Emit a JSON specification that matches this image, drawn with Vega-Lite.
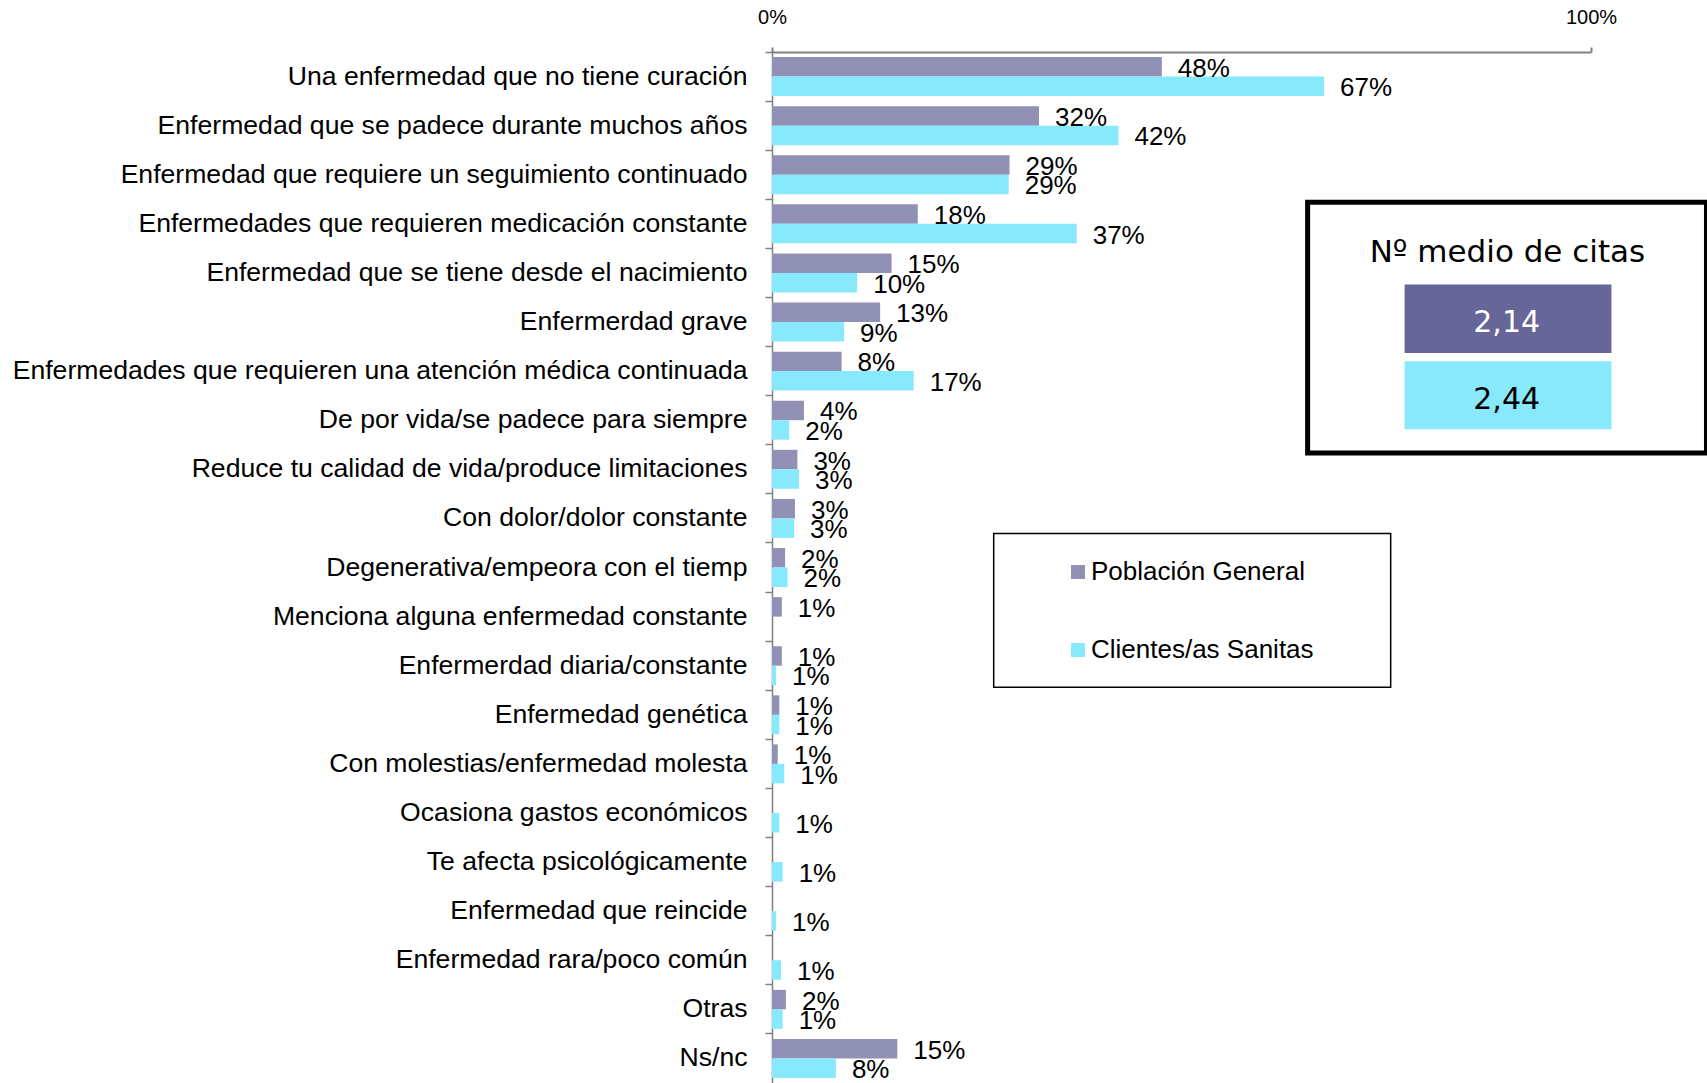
{
  "$schema": "https://vega.github.io/schema/vega-lite/v6.json",
  "width": 819,
  "height": 1031,
  "autosize": {"type": "none"},
  "padding": {"left": 772, "top": 52, "right": 116, "bottom": 0},
  "background": "white",
  "config": {
    "font": "Liberation Sans",
    "view": {"stroke": null},
    "axis": {"grid": false}
  },
  "datasets": {
    "respuestas": [
      {"respuesta": "Una enfermedad que no tiene curación", "serie": "Población General", "valor": 47.6, "etiqueta": "48%"},
      {"respuesta": "Una enfermedad que no tiene curación", "serie": "Clientes/as Sanitas", "valor": 67.4, "etiqueta": "67%"},
      {"respuesta": "Enfermedad que se padece durante muchos años", "serie": "Población General", "valor": 32.6, "etiqueta": "32%"},
      {"respuesta": "Enfermedad que se padece durante muchos años", "serie": "Clientes/as Sanitas", "valor": 42.3, "etiqueta": "42%"},
      {"respuesta": "Enfermedad que requiere un seguimiento continuado", "serie": "Población General", "valor": 29.0, "etiqueta": "29%"},
      {"respuesta": "Enfermedad que requiere un seguimiento continuado", "serie": "Clientes/as Sanitas", "valor": 28.9, "etiqueta": "29%"},
      {"respuesta": "Enfermedades que requieren medicación constante", "serie": "Población General", "valor": 17.8, "etiqueta": "18%"},
      {"respuesta": "Enfermedades que requieren medicación constante", "serie": "Clientes/as Sanitas", "valor": 37.2, "etiqueta": "37%"},
      {"respuesta": "Enfermedad que se tiene desde el nacimiento", "serie": "Población General", "valor": 14.6, "etiqueta": "15%"},
      {"respuesta": "Enfermedad que se tiene desde el nacimiento", "serie": "Clientes/as Sanitas", "valor": 10.4, "etiqueta": "10%"},
      {"respuesta": "Enfermerdad grave", "serie": "Población General", "valor": 13.2, "etiqueta": "13%"},
      {"respuesta": "Enfermerdad grave", "serie": "Clientes/as Sanitas", "valor": 8.8, "etiqueta": "9%"},
      {"respuesta": "Enfermedades que requieren una atención médica continuada", "serie": "Población General", "valor": 8.5, "etiqueta": "8%"},
      {"respuesta": "Enfermedades que requieren una atención médica continuada", "serie": "Clientes/as Sanitas", "valor": 17.3, "etiqueta": "17%"},
      {"respuesta": "De por vida/se padece para siempre", "serie": "Población General", "valor": 3.9, "etiqueta": "4%"},
      {"respuesta": "De por vida/se padece para siempre", "serie": "Clientes/as Sanitas", "valor": 2.1, "etiqueta": "2%"},
      {"respuesta": "Reduce tu calidad de vida/produce limitaciones", "serie": "Población General", "valor": 3.1, "etiqueta": "3%"},
      {"respuesta": "Reduce tu calidad de vida/produce limitaciones", "serie": "Clientes/as Sanitas", "valor": 3.3, "etiqueta": "3%"},
      {"respuesta": "Con dolor/dolor constante", "serie": "Población General", "valor": 2.8, "etiqueta": "3%"},
      {"respuesta": "Con dolor/dolor constante", "serie": "Clientes/as Sanitas", "valor": 2.7, "etiqueta": "3%"},
      {"respuesta": "Degenerativa/empeora con el tiemp", "serie": "Población General", "valor": 1.6, "etiqueta": "2%"},
      {"respuesta": "Degenerativa/empeora con el tiemp", "serie": "Clientes/as Sanitas", "valor": 1.9, "etiqueta": "2%"},
      {"respuesta": "Menciona alguna enfermedad constante", "serie": "Población General", "valor": 1.2, "etiqueta": "1%"},
      {"respuesta": "Enfermerdad diaria/constante", "serie": "Población General", "valor": 1.2, "etiqueta": "1%"},
      {"respuesta": "Enfermerdad diaria/constante", "serie": "Clientes/as Sanitas", "valor": 0.5, "etiqueta": "1%"},
      {"respuesta": "Enfermedad genética", "serie": "Población General", "valor": 0.9, "etiqueta": "1%"},
      {"respuesta": "Enfermedad genética", "serie": "Clientes/as Sanitas", "valor": 0.9, "etiqueta": "1%"},
      {"respuesta": "Con molestias/enfermedad molesta", "serie": "Población General", "valor": 0.7, "etiqueta": "1%"},
      {"respuesta": "Con molestias/enfermedad molesta", "serie": "Clientes/as Sanitas", "valor": 1.5, "etiqueta": "1%"},
      {"respuesta": "Ocasiona gastos económicos", "serie": "Clientes/as Sanitas", "valor": 0.9, "etiqueta": "1%"},
      {"respuesta": "Te afecta psicológicamente", "serie": "Clientes/as Sanitas", "valor": 1.3, "etiqueta": "1%"},
      {"respuesta": "Enfermedad que reincide", "serie": "Clientes/as Sanitas", "valor": 0.5, "etiqueta": "1%"},
      {"respuesta": "Enfermedad rara/poco común", "serie": "Clientes/as Sanitas", "valor": 1.1, "etiqueta": "1%"},
      {"respuesta": "Otras", "serie": "Población General", "valor": 1.7, "etiqueta": "2%"},
      {"respuesta": "Otras", "serie": "Clientes/as Sanitas", "valor": 1.3, "etiqueta": "1%"},
      {"respuesta": "Ns/nc", "serie": "Población General", "valor": 15.3, "etiqueta": "15%"},
      {"respuesta": "Ns/nc", "serie": "Clientes/as Sanitas", "valor": 7.8, "etiqueta": "8%"}
    ],
    "anotaciones": [
      {"elemento": "titulo", "texto": "Nº medio de citas"},
      {"elemento": "Población General", "texto": "2,14"},
      {"elemento": "Clientes/as Sanitas", "texto": "2,44"},
      {"elemento": "leyenda", "texto": ""}
    ]
  },
  "resolve": {"scale": {"y": "independent"}},
  "layer": [
    {
      "data": {"name": "respuestas"},
      "encoding": {
        "y": {
          "field": "respuesta", "type": "nominal", "sort": null,
          "scale": {"paddingInner": 0, "paddingOuter": 0},
          "axis": {
            "title": null, "orient": "left",
            "bandPosition": 0, "labelOffset": 0,
            "domainColor": "#808080", "domainWidth": 1.5,
            "tickColor": "#808080", "tickWidth": 1.5, "tickSize": 7,
            "labelFontSize": 26.6, "labelColor": "black", "labelPadding": 18,
            "labelLimit": 900, "labelFont": "Liberation Sans"
          }
        },
        "yOffset": {
          "field": "serie", "type": "nominal",
          "sort": ["Población General", "Clientes/as Sanitas"],
          "scale": {"paddingInner": 0, "paddingOuter": 0.26}
        },
        "x": {
          "field": "valor", "type": "quantitative",
          "scale": {"domain": [0, 100], "nice": false},
          "axis": {
            "title": null, "orient": "top", "values": [0, 100],
            "labelExpr": "datum.value + '%'",
            "domainColor": "#808080", "domainWidth": 2,
            "tickColor": "#808080", "tickWidth": 2, "tickSize": 5,
            "labelFontSize": 20, "labelColor": "black", "labelPadding": 20,
            "labelFont": "Liberation Sans", "labelFlush": false
          }
        }
      },
      "layer": [
        {
          "mark": {"type": "bar"},
          "encoding": {
            "color": {
              "field": "serie", "type": "nominal",
              "scale": {"domain": ["Población General", "Clientes/as Sanitas"], "range": ["#9191B5", "#88E8FC"]},
              "legend": {
                "orient": "none", "legendX": 293, "legendY": 507,
                "title": null, "symbolType": "square", "symbolSize": 196,
                "symbolStrokeWidth": 0, "labelFontSize": 26, "labelFont": "Liberation Sans",
                "labelColor": "black", "labelOffset": 0, "rowPadding": 52,
                "labelLimit": 400,
                "padding": 0, "direction": "vertical"
              }
            }
          }
        },
        {
          "mark": {"type": "text", "align": "left", "baseline": "middle", "dx": 16, "dy": 2, "fontSize": 26, "color": "black"},
          "encoding": {"text": {"field": "etiqueta"}}
        }
      ]
    },
    {
      "data": {"name": "anotaciones"},
      "layer": [
        {
          "transform": [{"filter": "datum.elemento === 'titulo'"}],
          "mark": {"type": "rect", "fill": "transparent", "stroke": "black", "strokeWidth": 5},
          "encoding": {
            "x": {"datum": 65.4, "type": "quantitative"},
            "x2": {"datum": 114.1},
            "y": {"datum": 3.06, "type": "quantitative", "scale": {"domain": [0, 21], "reverse": true, "nice": false, "zero": false}, "axis": null},
            "y2": {"datum": 8.17}
          }
        },
        {
          "transform": [{"filter": "datum.elemento === 'titulo'"}],
          "mark": {"type": "text", "font": "DejaVu Sans", "fontSize": 31, "align": "center", "baseline": "middle", "color": "black"},
          "encoding": {
            "x": {"datum": 89.8, "type": "quantitative"},
            "y": {"datum": 4.1, "type": "quantitative", "scale": {"domain": [0, 21], "reverse": true, "nice": false, "zero": false}, "axis": null},
            "text": {"field": "texto"}
          }
        },
        {
          "transform": [{"filter": "datum.elemento === 'Población General'"}],
          "mark": {"type": "rect", "color": "#666699"},
          "encoding": {
            "x": {"datum": 77.24, "type": "quantitative"},
            "x2": {"datum": 102.5},
            "y": {"datum": 4.735, "type": "quantitative", "scale": {"domain": [0, 21], "reverse": true, "nice": false, "zero": false}, "axis": null},
            "y2": {"datum": 6.13}
          }
        },
        {
          "transform": [{"filter": "datum.elemento === 'Población General'"}],
          "mark": {"type": "text", "font": "DejaVu Sans", "fontSize": 30, "align": "center", "baseline": "middle", "color": "white"},
          "encoding": {
            "x": {"datum": 89.7, "type": "quantitative"},
            "y": {"datum": 5.52, "type": "quantitative", "scale": {"domain": [0, 21], "reverse": true, "nice": false, "zero": false}, "axis": null},
            "text": {"field": "texto"}
          }
        },
        {
          "transform": [{"filter": "datum.elemento === 'Clientes/as Sanitas'"}],
          "mark": {"type": "rect", "color": "#88E8FC"},
          "encoding": {
            "x": {"datum": 77.24, "type": "quantitative"},
            "x2": {"datum": 102.5},
            "y": {"datum": 6.30, "type": "quantitative", "scale": {"domain": [0, 21], "reverse": true, "nice": false, "zero": false}, "axis": null},
            "y2": {"datum": 7.685}
          }
        },
        {
          "transform": [{"filter": "datum.elemento === 'Clientes/as Sanitas'"}],
          "mark": {"type": "text", "font": "DejaVu Sans", "fontSize": 30, "align": "center", "baseline": "middle", "color": "black"},
          "encoding": {
            "x": {"datum": 89.7, "type": "quantitative"},
            "y": {"datum": 7.08, "type": "quantitative", "scale": {"domain": [0, 21], "reverse": true, "nice": false, "zero": false}, "axis": null},
            "text": {"field": "texto"}
          }
        },
        {
          "transform": [{"filter": "datum.elemento === 'leyenda'"}],
          "mark": {"type": "rect", "fill": "transparent", "stroke": "black", "strokeWidth": 1.5},
          "encoding": {
            "x": {"datum": 27.07, "type": "quantitative"},
            "x2": {"datum": 75.54},
            "y": {"datum": 9.81, "type": "quantitative", "scale": {"domain": [0, 21], "reverse": true, "nice": false, "zero": false}, "axis": null},
            "y2": {"datum": 12.94}
          }
        }
      ]
    }
  ]
}
